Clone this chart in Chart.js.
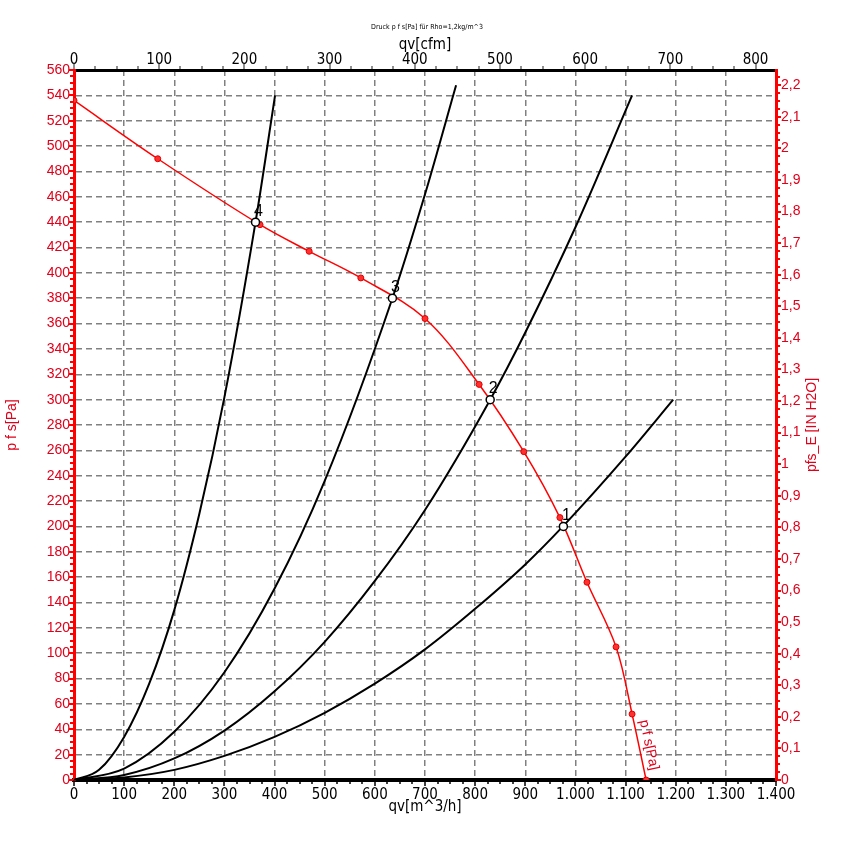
<!DOCTYPE html>
<html>
<head>
<meta charset="utf-8">
<script src="https://cdn.jsdelivr.net/npm/chart.js@4.4.1/dist/chart.umd.min.js"></script>
<style>
html,body{margin:0;padding:0;background:#fff;}
#wrap{width:854px;height:852px;position:relative;}
</style>
</head>
<body>
<div id="wrap"><canvas id="c" width="854" height="852"></canvas></div>
<script>
// ---- data ----
const chartTitle = 'Druck p f s[Pa] für Rho=1,2kg/m^3';
const pfsQv = [0, 167, 371, 469, 572, 700, 808, 897, 969, 1023, 1081, 1113, 1141];
const pfsPa = [536, 490, 438, 417, 396, 364, 312, 259, 207, 156, 105, 52, 0];

const sys1Qv = [0, 100, 200, 300, 400, 500, 600, 700, 800, 900, 975, 1100, 1195];
const sys1Pa = [0, 2, 8, 19, 34, 53, 76, 103, 135, 170, 200, 255, 300];
const sys2Qv = [0, 100, 200, 300, 400, 500, 600, 700, 830, 900, 1000, 1113];
const sys2Pa = [0, 4, 17, 39, 70, 109, 157, 213, 300, 353, 436, 540];
const sys3Qv = [0, 100, 200, 300, 400, 500, 635, 700, 762];
const sys3Pa = [0, 9, 38, 85, 151, 236, 380, 462, 548];
const sys4Qv = [0, 50, 100, 150, 200, 250, 300, 362, 401];
const sys4Pa = [0, 8, 34, 76, 134, 210, 302, 440, 540];

const opQv = [976, 830, 635, 362];
const opPa = [200, 300, 380, 440];
const opLabels = ['1', '2', '3', '4'];

const qvMax = 1400, qvStep = 100;
const paMax = 560, paStep = 20;
const m3hPerCfm = 1.699;
const paPerInH2O = 249.089;
const curveLabel = 'p f s[Pa]';
const xTitle = 'qv[m^3/h]', x2Title = 'qv[cfm]', yTitle = 'p f s[Pa]', y2Title = 'pfs_E [IN H2O]';

// ---- helpers ----
const pts = (xs, ys) => xs.map((v, i) => ({x: v, y: ys[i]}));
const RED = '#ff0000', RED_TXT = '#e0001a';
const NARROW = '"Liberation Sans Narrow", "DejaVu Sans Condensed", "Liberation Sans", Arial, sans-serif';
const SANS = '"Liberation Sans", Arial, sans-serif';
const fmtThousands = v => v >= 1000 ? Math.floor(v / 1000) + '.' + String(v % 1000).padStart(3, '0') : String(v);
const fmtComma = v => String(Number(v.toFixed(1))).replace('.', ',');

const blackLine = (xs, ys) => ({
  data: pts(xs, ys), showLine: true, borderColor: '#000', borderWidth: 2,
  pointRadius: 0, cubicInterpolationMode: 'monotone', fill: false
});

const deco = {
  id: 'deco',
  afterDraw(chart) {
    const ctx = chart.ctx, s = chart.scales, a = chart.chartArea;
    ctx.save();
    // left axis ticks
    ctx.strokeStyle = RED; ctx.lineWidth = 2;
    for (let v = 0; v <= paMax; v += 5) {
      const py = Math.round(s.y.getPixelForValue(v));
      const L = v % paStep === 0 ? 4 : 3;
      ctx.beginPath(); ctx.moveTo(a.left - 1, py); ctx.lineTo(a.left - 1 - L, py); ctx.stroke();
    }
    // right axis ticks
    const y2max = paMax / paPerInH2O;
    for (let i = 0; i * 0.025 <= y2max + 1e-9; i++) {
      const py = Math.round(s.y2.getPixelForValue(i * 0.025));
      const L = i % 4 === 0 ? 4 : 3;
      ctx.beginPath(); ctx.moveTo(a.right + 1, py); ctx.lineTo(a.right + 1 + L, py); ctx.stroke();
    }
    // bottom ticks
    ctx.strokeStyle = '#000'; ctx.lineWidth = 1.5;
    for (let v = 0; v <= qvMax; v += 25) {
      const px = Math.round(s.x.getPixelForValue(v));
      const L = v % qvStep === 0 ? 5 : 3;
      ctx.beginPath(); ctx.moveTo(px, a.bottom + 1); ctx.lineTo(px, a.bottom + 1 + L); ctx.stroke();
    }
    // top ticks
    ctx.strokeStyle = '#444'; ctx.lineWidth = 1.2;
    const x2max = qvMax / m3hPerCfm;
    for (let v = 0; v <= x2max; v += 25) {
      const px = Math.round(s.x2.getPixelForValue(v));
      const L = v % 100 === 0 ? 5 : 3;
      ctx.beginPath(); ctx.moveTo(px, a.top - 1); ctx.lineTo(px, a.top - 1 - L); ctx.stroke();
    }
    // main title
    ctx.fillStyle = '#000';
    ctx.font = '7px ' + NARROW;
    ctx.textAlign = 'center'; ctx.textBaseline = 'middle';
    ctx.fillText(chartTitle, 427, 27);
    // right axis title (reads bottom to top)
    ctx.save();
    ctx.translate(812, (a.top + a.bottom) / 2);
    ctx.rotate(-Math.PI / 2);
    ctx.fillStyle = RED_TXT; ctx.font = '14px ' + SANS;
    ctx.fillText(y2Title, 0, 0);
    ctx.restore();
    // curve label along last segment of the fan curve
    const n = pfsQv.length;
    const p0x = s.x.getPixelForValue(pfsQv[n - 2]), p0y = s.y.getPixelForValue(pfsPa[n - 2]);
    const p1x = s.x.getPixelForValue(pfsQv[n - 1]), p1y = s.y.getPixelForValue(pfsPa[n - 1]);
    const dx = p1x - p0x, dy = p1y - p0y, len = Math.hypot(dx, dy);
    const ang = Math.atan2(dy, dx);
    const cx = (p0x + p1x) / 2 + (dy / len) * 10, cy = (p0y + p1y) / 2 - (dx / len) * 10;
    ctx.save();
    ctx.translate(cx, cy); ctx.rotate(ang);
    ctx.fillStyle = RED_TXT; ctx.font = '14px ' + SANS;
    ctx.textAlign = 'center'; ctx.textBaseline = 'middle';
    ctx.fillText(curveLabel, 0, 0);
    ctx.restore();
    // operating point labels
    ctx.fillStyle = '#000'; ctx.font = '16px ' + SANS;
    ctx.textAlign = 'center'; ctx.textBaseline = 'middle';
    opQv.forEach((q, i) => {
      ctx.fillText(opLabels[i], s.x.getPixelForValue(q) + 3, s.y.getPixelForValue(opPa[i]) - 11);
    });
    ctx.restore();
  }
};

new Chart(document.getElementById('c'), {
  type: 'scatter',
  data: {
    datasets: [
      { data: pts(opQv, opPa), pointRadius: 4, pointBackgroundColor: '#fff', pointBorderColor: '#000', pointBorderWidth: 1.5, showLine: false },
      { data: pts(pfsQv, pfsPa), showLine: true, borderColor: RED, borderWidth: 1.5, tension: 0.35,
        pointRadius: 3, pointBackgroundColor: '#ff3030', pointBorderColor: '#e00000', pointBorderWidth: 1 },
      blackLine(sys1Qv, sys1Pa),
      blackLine(sys2Qv, sys2Pa),
      blackLine(sys3Qv, sys3Pa),
      blackLine(sys4Qv, sys4Pa)
    ]
  },
  options: {
    responsive: false, animation: false, devicePixelRatio: 1,
    layout: { padding: 0 },
    plugins: { legend: { display: false }, tooltip: { enabled: false }, title: { display: false } },
    scales: {
      x: {
        type: 'linear', position: 'bottom', min: 0, max: qvMax,
        afterFit: sc => { sc.height = 72; },
        ticks: { stepSize: qvStep, autoSkip: false, maxRotation: 0, padding: 6, color: '#000',
                 font: { family: NARROW, size: 15 }, callback: v => fmtThousands(v) },
        grid: { color: '#808080', lineWidth: 1.5, drawTicks: false },
        border: { display: true, color: '#000', width: 4, dash: [6, 4] },
        title: { display: true, text: xTitle, color: '#000', font: { family: NARROW, size: 15 }, padding: { top: 0, bottom: 36 } }
      },
      x2: {
        type: 'linear', position: 'top', min: 0, max: qvMax / m3hPerCfm,
        afterFit: sc => { sc.height = 70; },
        ticks: { stepSize: 100, includeBounds: false, autoSkip: false, maxRotation: 0, padding: 1, color: '#000',
                 font: { family: NARROW, size: 15 } },
        grid: { display: true, drawOnChartArea: false, drawTicks: false },
        border: { display: true, color: '#000', width: 3 },
        title: { display: true, text: x2Title, color: '#000', font: { family: NARROW, size: 15 }, padding: { top: 36, bottom: 0 } }
      },
      y: {
        type: 'linear', position: 'left', min: 0, max: paMax,
        afterFit: sc => { sc.width = 74; },
        ticks: { stepSize: paStep, autoSkip: false, padding: 4, color: RED_TXT, font: { family: SANS, size: 14 } },
        grid: { color: '#808080', lineWidth: 1.5, drawTicks: false },
        border: { display: true, color: RED, width: 3, dash: [6, 4] },
        title: { display: true, text: yTitle, color: RED_TXT, font: { family: SANS, size: 14 }, padding: { top: 4, bottom: 0 } }
      },
      y2: {
        type: 'linear', position: 'right', min: 0, max: paMax / paPerInH2O,
        afterFit: sc => { sc.width = 78; },
        ticks: { stepSize: 0.1, includeBounds: false, autoSkip: false, padding: 5, color: RED_TXT,
                 font: { family: SANS, size: 14 }, callback: v => fmtComma(v) },
        grid: { display: true, drawOnChartArea: false, drawTicks: false },
        border: { display: true, color: RED, width: 3 }
      }
    }
  },
  plugins: [deco]
});
</script>
</body>
</html>
